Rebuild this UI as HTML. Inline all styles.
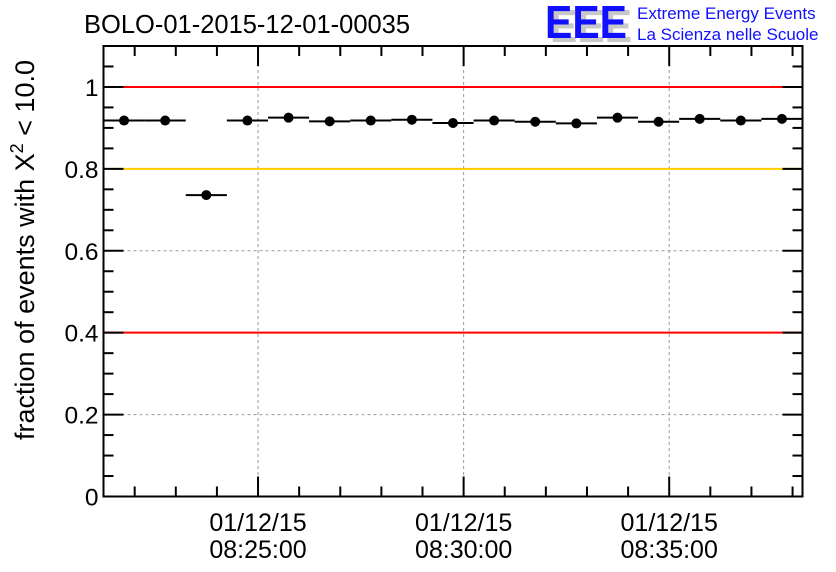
<!DOCTYPE html>
<html><head><meta charset="utf-8"><style>
html,body{margin:0;padding:0;background:#fff}
svg{display:block;font-family:"Liberation Sans",sans-serif}
</style></head><body>
<svg id="chart" width="836" height="572" viewBox="0 0 836 572">
<text x="84" y="33" font-size="25.5" fill="#000">BOLO-01-2015-12-01-00035</text>
<g>
<text x="550" y="42" font-size="46" font-weight="bold" fill="#c8c8c8" textLength="82" lengthAdjust="spacingAndGlyphs">EEE</text>
<text x="545" y="38" font-size="46" font-weight="bold" fill="#1010ff" textLength="82" lengthAdjust="spacingAndGlyphs">EEE</text>
<text x="637" y="19" font-size="17" fill="#1010ff">Extreme Energy Events</text>
<text x="637" y="40" font-size="17" fill="#1010ff">La Scienza nelle Scuole</text>
</g>
<text transform="translate(34,250) rotate(-90)" text-anchor="middle" font-size="27" fill="#000">fraction of events with Χ<tspan dy="-11" font-size="18">2</tspan><tspan dy="11"> &lt; 10.0</tspan></text>
<g id="grid"></g><g id="refs"></g><g id="axes"></g><g id="marks"></g>
</svg>
<script>
const binValues=[0.918,0.918,0.736,0.918,0.925,0.916,0.918,0.920,0.912,0.918,0.915,0.911,0.925,0.915,0.922,0.918,0.922];
const yTicks=[0,0.2,0.4,0.6,0.8,1];
const yTickLabels=["0","0.2","0.4","0.6","0.8","1"];
const xTickMinutes=[25,30,35];
const xTickLabels=["08:25:00","08:30:00","08:35:00"];
const xDateLabel="01/12/15";
const refLines=[1.0,0.8,0.4];
const refColors=["#ff0000","#ffcc00","#ff0000"];

const L=103.5,R=802.5,T=46,B=496.5,YMAX=1.1;
const t0=8*60+21+14.5/60;
const nMin=17;
function xs(m){return L+(m-t0)/nMin*(R-L);}
function ys(v){return B-v/YMAX*(B-T);}
const NS="http://www.w3.org/2000/svg";
function mk(tag,parent,attrs){const e=document.createElementNS(NS,tag);for(const k in attrs)e.setAttribute(k,attrs[k]);parent.appendChild(e);return e;}
const grid=document.getElementById('grid'),refs=document.getElementById('refs'),axes=document.getElementById('axes'),marks=document.getElementById('marks');

yTicks.forEach((v,i)=>{
 if(v>0){const g=mk('line',grid,{x1:L,x2:R,y1:ys(v),y2:ys(v),stroke:'#999','stroke-dasharray':'3,3','stroke-width':1});
 
 }
 const t=mk('text',axes,{x:L-5,y:ys(v)+9,'text-anchor':'end','font-size':24.5,fill:'#000'});
 t.textContent=yTickLabels[i];
 
 
});
xTickMinutes.forEach((m,i)=>{
 const x=xs(8*60+m);
 const g=mk('line',grid,{x1:x,x2:x,y1:T,y2:B,stroke:'#999','stroke-dasharray':'3,3','stroke-width':1});
 
 
 const t1=mk('text',axes,{x:x,y:531,'text-anchor':'middle','font-size':25,fill:'#000'});
 t1.textContent=xDateLabel;
 
 
 const t2=mk('text',axes,{x:x,y:558,'text-anchor':'middle','font-size':25,fill:'#000'});
 t2.textContent=xTickLabels[i];
 
 
});
refLines.forEach((v,i)=>{
 const l=mk('line',refs,{x1:L,x2:R,y1:ys(v),y2:ys(v),stroke:refColors[i],'stroke-width':2});
 
 
});
const fr=mk('rect',axes,{x:L,y:T,width:R-L,height:B-T,fill:'none',stroke:'#000','stroke-width':2});


for(let k=0;k<=22;k++){const v=k*0.05,y=ys(v),len=(k%4===0)?20:10;
 mk('line',axes,{x1:L,x2:L+len,y1:y,y2:y,stroke:'#000','stroke-width':2});
 mk('line',axes,{x1:R,x2:R-len,y1:y,y2:y,stroke:'#000','stroke-width':2});}
for(let m=8*60+22;m<=8*60+38;m++){const x=xs(m),len=(m%5===0)?20:10;
 mk('line',axes,{x1:x,x2:x,y1:B,y2:B-len,stroke:'#000','stroke-width':2});
 mk('line',axes,{x1:x,x2:x,y1:T,y2:T+len,stroke:'#000','stroke-width':2});}
binValues.forEach((v,i)=>{
 const a=xs(t0+i),b=xs(t0+i+1),y=ys(v);
 const l=mk('line',marks,{x1:a,x2:b,y1:y,y2:y,stroke:'#000','stroke-width':2});
 
 
 const c=mk('circle',marks,{cx:(a+b)/2,cy:y,r:5,fill:'#000'});
 
 
});
</script>
</body></html>
